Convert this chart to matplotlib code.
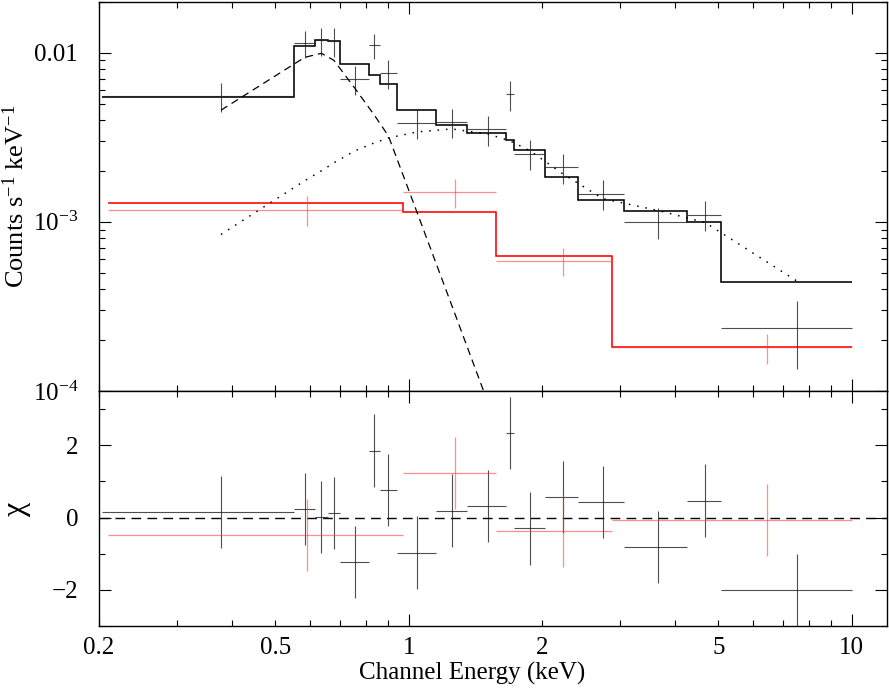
import matplotlib
matplotlib.use('Agg')
import matplotlib.pyplot as plt
from matplotlib.ticker import FixedLocator, FuncFormatter, NullFormatter
import numpy as np

plt.rcParams['font.family'] = ['Liberation Serif', 'DejaVu Serif']
plt.rcParams['mathtext.fontset'] = 'custom'
plt.rcParams['mathtext.rm'] = 'Liberation Serif'
plt.rcParams['mathtext.it'] = 'Liberation Serif:italic'
plt.rcParams['mathtext.default'] = 'regular'
plt.rcParams['axes.linewidth'] = 1.0

# ── black spectrum: grouped channel edges (keV) ───────────────────────────
blk_edges = [0.203, 0.551, 0.614, 0.657, 0.699, 0.8125, 0.860, 0.940, 1.150,
             1.351, 1.663, 1.725, 2.036, 2.417, 3.069, 4.257, 5.078, 10.0]
blk_rate = [5.55e-3, 1.139e-2, 1.18e-2, 1.17e-2, 6.96e-3, 1.104e-2, 7.55e-3,
            3.84e-3, 3.90e-3, 3.52e-3, 5.66e-3, 2.53e-3, 2.10e-3, 1.47e-3,
            1.00e-3, 1.10e-3, 2.37e-4]
blk_err = [1.09e-3, 2.07e-3, 2.25e-3, 2.22e-3, 1.35e-3, 1.87e-3, 1.48e-3,
           7.55e-4, 7.50e-4, 7.15e-4, 1.13e-3, 5.0e-4, 4.2e-4, 2.95e-4,
           2.07e-4, 2.2e-4, 1.03e-4]
blk_model = [5.46e-3, 1.10e-2, 1.193e-2, 1.165e-2, 8.57e-3, 7.42e-3, 6.53e-3,
             4.58e-3, 3.76e-3, 3.34e-3, 3.04e-3, 2.65e-3, 1.85e-3, 1.35e-3,
             1.165e-3, 9.95e-4, 4.41e-4]
blk_chi = [0.15, 0.24, 0.01, 0.12, -1.23, 1.85, 0.77, -0.97, 0.19, 0.32,
           2.33, -0.30, 0.57, 0.42, -0.82, 0.47, -2.0]

# model components (evaluated at black bin centres)
line_comp = [4.57e-3, 9.38e-3, 9.91e-3, 9.01e-3, 6.17e-3, 4.28e-3, 3.22e-3,
             1.134e-3, 3.22e-4, 8.65e-5]
cont_comp = [8.42e-4, 1.749e-3, 2.003e-3, 2.232e-3, 2.627e-3, 2.927e-3,
             3.13e-3, 3.40e-3, 3.54e-3, 3.31e-3, 3.01e-3, 2.627e-3, 1.924e-3,
             1.371e-3, 1.165e-3, 9.91e-4, 4.45e-4]

# ── red spectrum ───────────────────────────────────────────────────────────
red_edges = [0.2096, 0.969, 1.571, 2.884, 10.0]
red_rate = [1.177e-3, 1.493e-3, 5.86e-4, 1.815e-4]
red_err = [2.35e-4, 2.9e-4, 1.1e-4, 3.7e-5]
red_model = [1.286e-3, 1.139e-3, 6.27e-4, 1.815e-4]
red_chi = [-0.48, 1.23, -0.38, -0.06]

be = np.array(blk_edges)
bc = (be[:-1] + be[1:]) / 2
bxerr = [bc - be[:-1], be[1:] - bc]
re_ = np.array(red_edges)
rc = (re_[:-1] + re_[1:]) / 2
rxerr = [rc - re_[:-1], re_[1:] - rc]

FS = 18
fig = plt.figure(figsize=(8.89, 6.91), dpi=100)
ax1 = fig.add_axes([0.1114, 0.4342, 0.8860, 0.5633])
ax2 = fig.add_axes([0.1114, 0.0941, 0.8860, 0.3401], sharex=ax1)

# ── top panel ──────────────────────────────────────────────────────────────
ax1.errorbar(bc, blk_rate, xerr=bxerr, yerr=blk_err, fmt='none',
             ecolor='#222222', elinewidth=0.8, capsize=0, alpha=0.8)
ax1.errorbar(rc, red_rate, xerr=rxerr, yerr=red_err, fmt='none',
             ecolor='#ff3333', elinewidth=0.9, capsize=0, alpha=0.55)
ax1.stairs(blk_model, blk_edges, baseline=None, color='black', lw=1.15)
ax1.stairs(red_model, red_edges, baseline=None, color='#ff0000', lw=1.15)
ax1.plot(bc[:len(line_comp)], line_comp, color='black', lw=0.9,
         linestyle=(0, (6, 4)))
ax1.plot(bc, cont_comp, color='black', lw=1.1, linestyle=(0, (1, 4.5)))

ax1.set_xscale('log')
ax1.set_yscale('log')
ax1.set_xlim(0.2, 12)
ax1.set_ylim(1e-4, 0.02)

ax1.yaxis.set_major_locator(FixedLocator([1e-4, 1e-3, 1e-2]))
ax1.yaxis.set_major_formatter(FuncFormatter(
    lambda v, p: {1e-4: '$10^{-4}$', 1e-3: '$10^{-3}$', 1e-2: '0.01'}.get(v, '')))
yminor = [m * d for d in (1e-4, 1e-3) for m in range(2, 10)] + [0.02]
ax1.yaxis.set_minor_locator(FixedLocator(yminor))
ax1.yaxis.set_minor_formatter(NullFormatter())
ax1.set_ylabel('Counts s$^{-1}$ keV$^{-1}$', fontsize=19)
ax1.yaxis.set_label_coords(-0.089, 0.5)

# ── residual panel ─────────────────────────────────────────────────────────
ax2.axhline(0, color='black', lw=1.0, linestyle=(0, (7, 4.5)))
ax2.errorbar(bc, blk_chi, xerr=bxerr, yerr=1.0, fmt='none',
             ecolor='#222222', elinewidth=0.8, capsize=0, alpha=0.8)
ax2.errorbar(rc, red_chi, xerr=rxerr, yerr=1.0, fmt='none',
             ecolor='#ff3333', elinewidth=0.9, capsize=0, alpha=0.55)
ax2.set_ylim(-3, 3.5)
ax2.yaxis.set_major_locator(FixedLocator([-2, 0, 2]))
ax2.yaxis.set_minor_locator(FixedLocator([-3, -1, 1, 3]))
ax2.set_ylabel('χ', fontsize=23)
ax2.yaxis.set_label_coords(-0.086, 0.5)

xlab = {0.2: '0.2', 0.5: '0.5', 2: '2', 5: '5'}
ax2.xaxis.set_major_locator(FixedLocator([1, 10]))
ax2.xaxis.set_major_formatter(FuncFormatter(lambda v, p: {1: '1', 10: '10'}.get(round(v), '')))
xminor = [0.2, 0.3, 0.4, 0.5, 0.6, 0.7, 0.8, 0.9, 2, 3, 4, 5, 6, 7, 8, 9]
ax2.xaxis.set_minor_locator(FixedLocator(xminor))
ax2.xaxis.set_minor_formatter(FuncFormatter(
    lambda v, p: next((t for k, t in xlab.items() if abs(v - k) < 1e-6), '')))
ax2.set_xlabel('Channel Energy (keV)', fontsize=FS)
ax2.xaxis.set_label_coords(0.4735, -0.155)

for ax in (ax1, ax2):
    ax.tick_params(which='both', direction='in', top=True, right=True,
                   width=0.8, labelsize=FS)
    ax.tick_params(which='major', length=8.5)
    ax.tick_params(which='minor', length=4.5)
    ax.tick_params(axis='y', which='both', pad=15)
    ax.tick_params(axis='x', which='both', pad=8)
ax1.tick_params(axis='x', which='both', labelbottom=False)

fig.savefig('out.png', dpi=100)
